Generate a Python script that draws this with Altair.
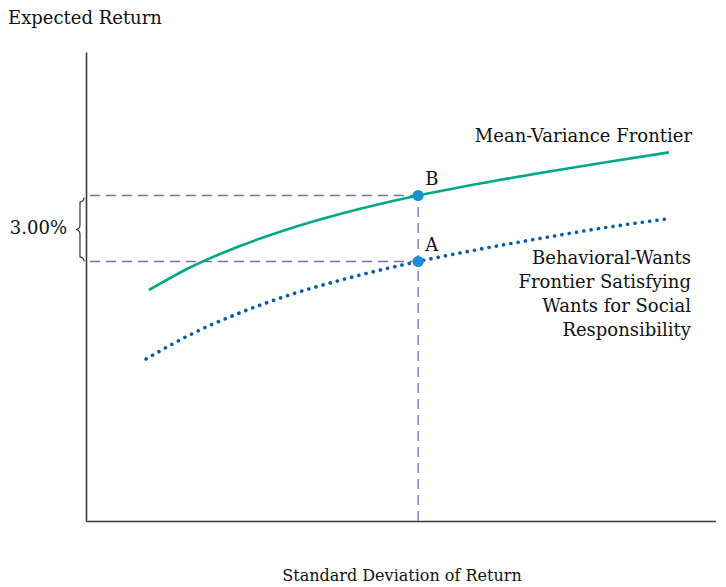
import altair as alt
import numpy as np
import pandas as pd

# Mean-variance frontier (solid green)
mv_x = [0.984, 1.625, 2.406, 3.188, 3.969, 4.594, 5.19, 6.156, 7.141, 8.125, 9.109]
mv_y = [4.62, 5.07, 5.50, 5.85, 6.14, 6.34, 6.51, 6.75, 6.97, 7.176, 7.372]
# Behavioral-wants frontier (dotted blue)
bw_x = [0.938, 1.625, 2.406, 3.188, 3.969, 4.75, 5.19, 6.156, 7.141, 8.125, 9.109]
bw_y = [3.24, 3.724, 4.164, 4.524, 4.814, 5.064, 5.19, 5.436, 5.662, 5.87, 6.046]
# Portfolios
pt_label = ["B", "A"]
pt_x = [5.19, 5.19]
pt_y = [6.51, 5.19]

FONT = "DejaVu Serif"
FS = 18
W, H = 630, 469
XMAX, YMAX = 630 / 64, 469 / 50

xs = alt.Scale(domain=[0, XMAX], nice=False, zero=False)
ys = alt.Scale(domain=[0, YMAX], nice=False, zero=False)

mv_df = pd.DataFrame({"x": mv_x, "y": mv_y})
bw_df = pd.DataFrame({"x": bw_x, "y": bw_y})
pts = pd.DataFrame({"x": pt_x, "y": pt_y, "label": pt_label})

ax = alt.Axis(title=None, ticks=False, labels=False, grid=False,
              domainColor="#3a3a3a", domainWidth=1.6)

base_axes = alt.Chart(pd.DataFrame({"x": [0], "y": [0]})).mark_point(opacity=0).encode(
    x=alt.X("x:Q", scale=xs, axis=ax),
    y=alt.Y("y:Q", scale=ys, axis=ax),
)

mv = alt.Chart(mv_df).mark_line(
    color="#00a884", strokeWidth=2.6, interpolate="monotone"
).encode(x=alt.X("x:Q", scale=xs), y=alt.Y("y:Q", scale=ys))

bw = alt.Chart(bw_df).mark_line(
    color="#0a5aa8", strokeWidth=3.6, strokeDash=[0.1, 7.3], strokeCap="round",
    interpolate="monotone"
).encode(x=alt.X("x:Q", scale=xs), y=alt.Y("y:Q", scale=ys))

# dashed guide lines
guides = pd.DataFrame({
    "x": [4 / 64, 4 / 64, pt_x[0]],
    "x2": [pt_x[0], pt_x[1], pt_x[0]],
    "y": [pt_y[0], pt_y[1], 0],
    "y2": [pt_y[0], pt_y[1], pt_y[0]],
})
rules = alt.Chart(guides).mark_rule(
    color="#7b6cb8", strokeWidth=1.3, strokeDash=[10, 6]
).encode(
    x=alt.X("x:Q", scale=xs), x2="x2:Q",
    y=alt.Y("y:Q", scale=ys), y2="y2:Q",
)

points = alt.Chart(pts).mark_circle(size=125, color="#1a8fd2", opacity=1).encode(
    x=alt.X("x:Q", scale=xs), y=alt.Y("y:Q", scale=ys)
)
plabels = alt.Chart(pts).mark_text(
    font=FONT, fontSize=FS, color="#111", align="left", baseline="middle"
).encode(
    x=alt.X("x:Q", scale=xs), y=alt.Y("y:Q", scale=ys), text="label:N",
    xOffset=alt.value(7), yOffset=alt.value(-16),
)

# brace between the two returns
top = pt_y[0] - 0.04
bot = pt_y[1]
mid = (top + bot) / 2
xe, xsb, xt = -0.03, -0.094, -0.156
r = 0.09
rows = []
k = 0
th = np.linspace(0, np.pi / 2, 8)
for a in th:
    rows.append((k, xsb + (xe - xsb) * np.cos(a), top - r * np.sin(a)))
    k += 1
for a in th:
    rows.append((k, xsb - (xsb - xt) * (1 - np.cos(a)), mid + r * (1 - np.sin(a))))
    k += 1
for a in th[::-1]:
    rows.append((k, xsb - (xsb - xt) * (1 - np.cos(a)), mid - r * (1 - np.sin(a))))
    k += 1
for a in th[::-1]:
    rows.append((k, xsb + (xe - xsb) * np.cos(a), bot + r * np.sin(a)))
    k += 1
brace_df = pd.DataFrame(rows, columns=["o", "x", "y"])
brace = alt.Chart(brace_df).mark_line(color="#222", strokeWidth=1.1).encode(
    x=alt.X("x:Q", scale=xs), y=alt.Y("y:Q", scale=ys), order="o:Q"
)


def label(text, x, y, align="left", size=FS):
    return alt.Chart(pd.DataFrame({"t": [text]})).mark_text(
        font=FONT, fontSize=size, color="#111", align=align, baseline="middle"
    ).encode(x=alt.value(x), y=alt.value(y), text="t:N")


t_ylab = label("Expected Return", -78, -33)
t_xlab = label("Standard Deviation of Return", 316, 524, align="center", size=16)
t_pct = label("3.00%", -19, 177, align="right")
t_mv = label("Mean-Variance Frontier", 606, 85, align="right")
t_bw1 = label("Behavioral-Wants", 605, 207, align="right")
t_bw2 = label("Frontier Satisfying", 605, 231, align="right")
t_bw3 = label("Wants for Social", 605, 255, align="right")
t_bw4 = label("Responsibility", 605, 279, align="right")

chart = alt.layer(
    base_axes, rules, mv, bw, points, plabels, brace,
    t_ylab, t_xlab, t_pct, t_mv, t_bw1, t_bw2, t_bw3, t_bw4
).properties(
    width=W, height=H,
    autosize=alt.AutoSizeParams(type="none"),
    padding={"left": 78, "top": 44, "right": 0, "bottom": 64},
).configure_view(stroke=None)

chart.save("out.html", embed_options={"renderer": "svg", "actions": False})
